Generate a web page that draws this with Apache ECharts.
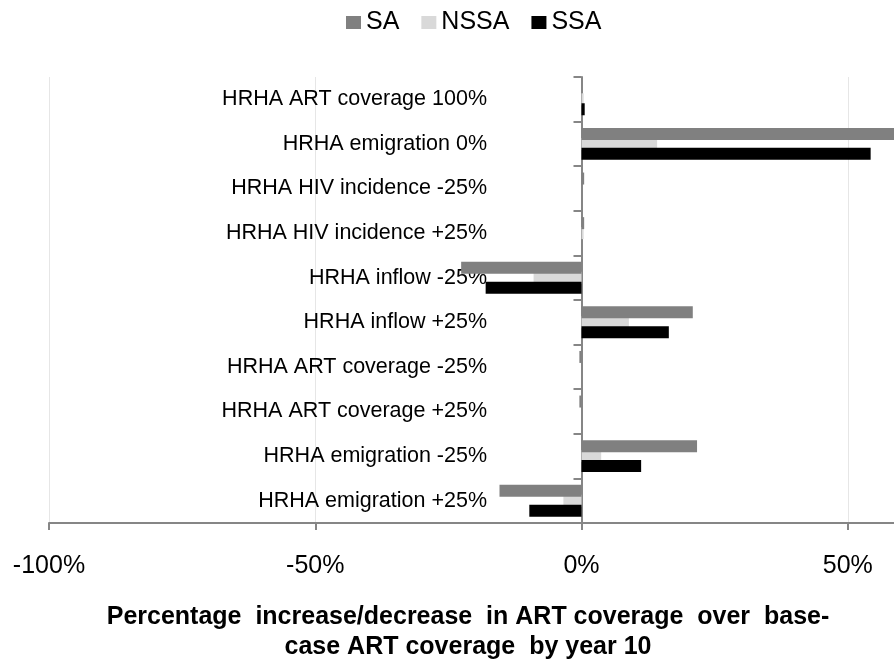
<!DOCTYPE html>
<html>
<head>
<meta charset="utf-8">
<script src="https://cdn.jsdelivr.net/npm/echarts@6/dist/echarts.min.js"></script>
<style>
  html, body { margin: 0; padding: 0; background: #fff; }
  #chart { width: 894px; height: 662px; }
</style>
</head>
<body>
<div id="chart"></div>
<script>
  // categories top to bottom
  const categories = [
    'HRHA ART coverage 100%',
    'HRHA emigration 0%',
    'HRHA HIV incidence -25%',
    'HRHA HIV incidence +25%',
    'HRHA inflow -25%',
    'HRHA inflow +25%',
    'HRHA ART coverage -25%',
    'HRHA ART coverage +25%',
    'HRHA emigration -25%',
    'HRHA emigration +25%'
  ];
  const saValues   = [0, 0.60, 0.005, 0.005, -0.226, 0.209, -0.004, -0.004, 0.217, -0.154];
  const nssaValues = [0.004, 0.142, 0, 0.004, -0.09, 0.089, 0, 0, 0.037, -0.034];
  const ssaValues  = [0.006, 0.543, 0, 0, -0.18, 0.164, 0, 0, 0.112, -0.098];
  const seriesNames = ['SA', 'NSSA', 'SSA'];
  const seriesColors = ['#808080', '#d9d9d9', '#000000'];
  const axisTitle = 'Percentage  increase/decrease  in ART coverage  over  base-\ncase ART coverage  by year 10';

  const font = 'Liberation Sans, Arial, sans-serif';
  const axisGray = '#868686';

  const chart = echarts.init(document.getElementById('chart'));

  const allValues = [saValues, nssaValues, ssaValues];
  const series = seriesNames.map((name, i) => ({
    name: name,
    type: 'bar',
    data: allValues[i],
    barWidth: 12,
    barGap: '-17%',
    z: i === 1 ? 1 : 3,
    itemStyle: { color: seriesColors[i] }
  }));

  chart.setOption({
    animation: false,
    textStyle: { fontFamily: font },
    title: {
      text: axisTitle,
      left: 468,
      top: 602,
      textAlign: 'center',
      padding: 0,
      textStyle: {
        fontFamily: font,
        fontSize: 25,
        fontWeight: 'bold',
        color: '#000',
        lineHeight: 30
      }
    },
    legend: {
      left: 346,
      top: 10,
      padding: 0,
      itemWidth: 15,
      itemHeight: 13,
      itemGap: 22,
      icon: 'rect',
      textStyle: { fontFamily: font, fontSize: 25, color: '#000' },
      data: seriesNames
    },
    grid: {
      left: 49,
      top: 77,
      width: 852,
      height: 446,
      containLabel: false,
      outerBoundsMode: 'none'
    },
    xAxis: {
      type: 'value',
      min: -1,
      max: 0.6,
      interval: 0.5,
      axisLine: { show: true, onZero: false, lineStyle: { color: axisGray, width: 2 } },
      axisTick: { show: true, length: 7, lineStyle: { color: axisGray, width: 2 } },
      axisLabel: {
        margin: 31,
        fontSize: 25,
        color: '#000',
        fontFamily: font,
        showMaxLabel: false,
        formatter: v => Math.round(v * 100) + '%'
      },
      splitLine: { show: true, lineStyle: { color: '#e6e6e6', width: 1 } }
    },
    yAxis: [
      {
        // zero line with ticks
        type: 'category',
        data: categories,
        inverse: true,
        axisLine: { show: true, onZero: true, lineStyle: { color: axisGray, width: 2 } },
        axisTick: { show: true, length: 8, lineStyle: { color: axisGray, width: 2 } },
        axisLabel: { show: false },
        splitLine: { show: false }
      },
      {
        // category labels, placed left of the zero line
        type: 'category',
        data: categories,
        inverse: true,
        position: 'left',
        offset: -438,
        axisLine: { show: false, onZero: false },
        axisTick: { show: false },
        axisLabel: {
          margin: 0,
          fontSize: 21.5,
          color: '#000',
          fontFamily: font
        },
        splitLine: { show: false }
      }
    ],
    series: series
  });
</script>
</body>
</html>
